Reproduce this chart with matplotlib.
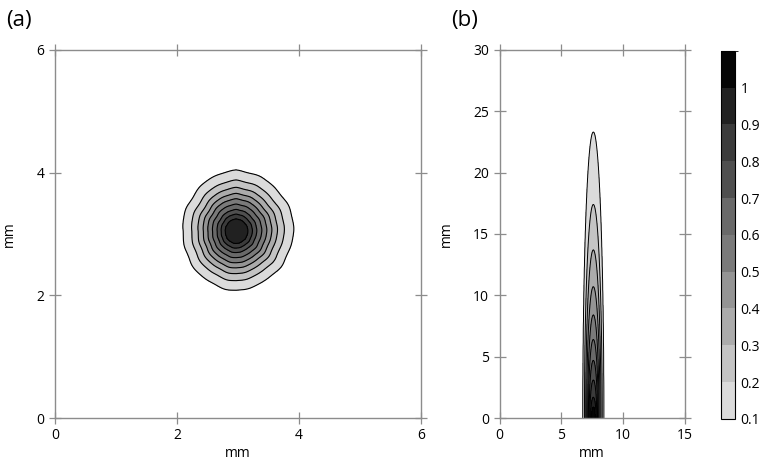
import numpy as np
import matplotlib
matplotlib.use('Agg')
import matplotlib.pyplot as plt
from matplotlib.colors import ListedColormap, BoundaryNorm

plt.rcParams['font.family'] = ['Open Sans', 'DejaVu Sans']

# contour levels shown on the colour bar
levels = [0.1, 0.2, 0.3, 0.4, 0.5, 0.6, 0.7, 0.8, 0.9, 1.0, 1.1]
tick_vals = [0.1, 0.2, 0.3, 0.4, 0.5, 0.6, 0.7, 0.8, 0.9, 1.0]
tick_text = ['0.1', '0.2', '0.3', '0.4', '0.5', '0.6', '0.7', '0.8', '0.9', '1']

# panel (a): spot centre and radius (mm) of each contour
spot_centre = (2.97, 3.04)
spot_levels = [0.98, 0.9, 0.8, 0.7, 0.6, 0.5, 0.4, 0.3, 0.2, 0.1, 0.0]
spot_radius = [0.0, 0.19, 0.26, 0.33, 0.41, 0.49, 0.57, 0.66, 0.77, 0.92, 1.15]
# outer outline radius (mm) at angles 0, 30, ..., 360 deg
outline_deg = [0, 30, 60, 90, 120, 150, 180, 210, 240, 270, 300, 330, 360]
outline_r = [0.94, 0.95, 0.96, 1.00, 0.95, 0.90, 0.87, 0.89, 0.93, 0.96, 0.93, 0.92, 0.94]

# panel (b): plume axis, half width at the bottom and top height of each contour (mm)
plume_x0 = 7.6
plume_levels = [0.1, 0.2, 0.3, 0.4, 0.5, 0.6, 0.7, 0.8, 0.9, 1.0, 1.06]
plume_halfw = [0.85, 0.72, 0.62, 0.54, 0.46, 0.40, 0.34, 0.28, 0.22, 0.15, 0.05]
plume_top = [23.3, 17.4, 13.7, 10.7, 8.4, 6.4, 4.7, 3.1, 1.7, 0.9, 0.3]

band_gray = [0.86, 0.77, 0.67, 0.58, 0.48, 0.41, 0.31, 0.23, 0.13, 0.02]
cmap = ListedColormap([(g, g, g) for g in band_gray])
norm = BoundaryNorm(levels, cmap.N)


def spot_field():
    x = np.linspace(0, 6, 601)
    y = np.linspace(0, 6, 601)
    X, Y = np.meshgrid(x, y)
    ang = np.degrees(np.arctan2(Y - spot_centre[1], X - spot_centre[0])) % 360
    r = np.hypot(X - spot_centre[0], Y - spot_centre[1])
    shape = np.interp(ang, outline_deg, outline_r) / spot_radius[-2]
    # small uneven ripple of the contour lines
    a = np.radians(ang)
    rip = 1 + 0.006 * np.sin(7 * a) + 0.006 * np.cos(11 * a + 1.0) + 0.004 * np.sin(17 * a)
    v = np.interp(r / (shape * rip), spot_radius, spot_levels)
    return X, Y, v


def plume_field():
    x = np.linspace(0, 15, 751)
    y = np.linspace(0, 30, 1201)
    X, Y = np.meshgrid(x, y)
    dx = np.abs(X - plume_x0)
    S = []
    for hw, t in zip(plume_halfw, plume_top):
        S.append((dx / hw) ** 2 + (Y / t) ** 2)
    v = np.zeros_like(X)
    for i in range(len(S) - 1):
        s0 = S[i]
        s1 = S[i + 1]
        m = (s0 <= 1) & (s1 > 1)
        frac = (1 - s0[m]) / (s1[m] - s0[m])
        v[m] = plume_levels[i] + (plume_levels[i + 1] - plume_levels[i]) * frac
    v[S[-1] <= 1] = plume_levels[-1]
    out = S[0] > 1
    v[out] = np.clip(0.1 - 0.05 * (S[0][out] - 1), 0, 0.1)
    return X, Y, v


def style_axes(ax, xt, yt):
    for sp in ax.spines.values():
        sp.set_color('#8c8c8c')
        sp.set_linewidth(1.0)
    ax.set_xticks(xt)
    ax.set_yticks(yt)
    ax.tick_params(direction='inout', length=9, width=0.9, color='#8c8c8c',
                   top=True, right=True, labelsize=10, pad=3)
    ax.set_xlabel('mm', fontsize=10, labelpad=2)
    ax.set_ylabel('mm', fontsize=10, labelpad=14)


fig = plt.figure(figsize=(7.64, 4.66), dpi=100)
ax1 = fig.add_axes([0.072, 0.103, 0.479, 0.790])
ax2 = fig.add_axes([0.654, 0.103, 0.242, 0.790])
cax = fig.add_axes([0.944, 0.101, 0.018, 0.790])

X, Y, V = spot_field()
cf = ax1.contourf(X, Y, V, levels=levels, cmap=cmap, norm=norm)
ax1.contour(X, Y, V, levels=levels[:-1], colors='k', linewidths=0.8)
ax1.set_xlim(0, 6)
ax1.set_ylim(0, 6)
style_axes(ax1, [0, 2, 4, 6], [0, 2, 4, 6])

X, Y, V = plume_field()
ax2.contourf(X, Y, V, levels=levels, cmap=cmap, norm=norm)
ax2.contour(X, Y, V, levels=levels[:-1], colors='k', linewidths=0.7)
ax2.set_xlim(0, 15)
ax2.set_ylim(0, 30)
style_axes(ax2, [0, 5, 10, 15], [0, 5, 10, 15, 20, 25, 30])

cb = fig.colorbar(cf, cax=cax, ticks=tick_vals)
cb.ax.set_yticklabels(tick_text)
cb.ax.tick_params(length=0, labelsize=10, pad=4)
cb.outline.set_linewidth(0.8)

fig.text(0.008, 0.955, '(a)', fontsize=16, va='center')
fig.text(0.590, 0.955, '(b)', fontsize=16, va='center')

fig.savefig('out.png', dpi=100)
